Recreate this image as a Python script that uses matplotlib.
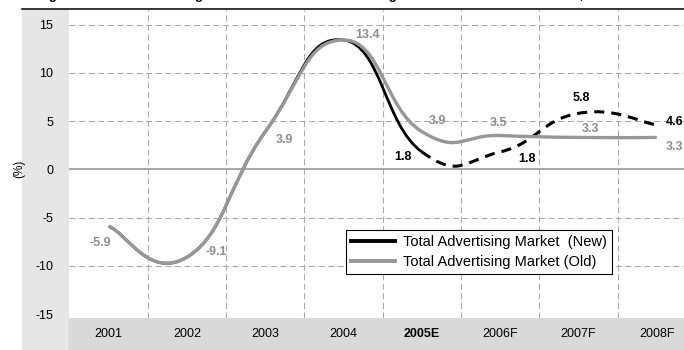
import numpy as np
import matplotlib
matplotlib.use('Agg')
import matplotlib.pyplot as plt
from matplotlib.path import Path
from matplotlib.patches import PathPatch, Rectangle
from matplotlib.lines import Line2D

plt.rcParams['font.family'] = ['Liberation Sans', 'DejaVu Sans']
plt.rcParams['axes.unicode_minus'] = False

# data
years = ['2001', '2002', '2003', '2004', '2005E', '2006F', '2007F', '2008F']
new_market = [-5.9, -9.1, 3.9, 13.4, 1.8, 1.8, 5.8, 4.6]
old_market = [-5.9, -9.1, 3.9, 13.4, 3.9, 3.5, 3.3, 3.3]
new_labels = {4: '1.8', 5: '1.8', 6: '5.8', 7: '4.6'}
old_labels = {0: '-5.9', 1: '-9.1', 2: '3.9', 3: '13.4', 4: '3.9', 5: '3.5', 6: '3.3', 7: '3.3'}
y_ticks = [-15, -10, -5, 0, 5, 10, 15]

# label offsets in pixels (dx right, dy down)
new_offsets = {4: (-19, 5), 5: (27, 7), 6: (3, -15), 7: (18, -3)}
old_offsets = {0: (-8, 17), 1: (29, -5), 2: (19, 8), 3: (24, -5),
               4: (16, -11), 5: (-2, -13), 6: (12, -8), 7: (18, 10)}

GREY = '#979797'
LABEL_GREY = '#8e8e8e'
GRID = '#a8a8a8'
DASH = (0, (5.8, 3.4))


def bezier_segments(ys, f=0.24):
    # excel-like smoothed line: one cubic bezier per pair of points
    pts = np.column_stack([np.arange(len(ys), dtype=float), np.asarray(ys, float)])
    n = len(pts)
    segs = []
    for k in range(n - 1):
        p0 = pts[max(k - 1, 0)]
        p1 = pts[k]
        p2 = pts[k + 1]
        p3 = pts[min(k + 2, n - 1)]
        c1 = p1 + f * (p2 - p0)
        c2 = p2 - f * (p3 - p1)
        segs.append((p1, c1, c2, p2))
    return segs


def seg_path(segs):
    verts = [segs[0][0]]
    codes = [Path.MOVETO]
    for p1, c1, c2, p2 in segs:
        verts += [c1, c2, p2]
        codes += [Path.CURVE4] * 3
    return Path(verts, codes)


fig = plt.figure(figsize=(6.84, 3.5), dpi=100)
W, H = 684.0, 350.0

# background panels
fig.add_artist(Rectangle((22 / W, 0), (69 - 22) / W, (350 - 10) / H,
                         transform=fig.transFigure, color='#e6e6e6', zorder=0))
fig.add_artist(Rectangle((69 / W, 0), (684 - 69) / W, (350 - 318) / H,
                         transform=fig.transFigure, color='#d9d9d9', zorder=0))
fig.add_artist(Line2D([22 / W, 1], [1 - 9 / H, 1 - 9 / H], transform=fig.transFigure,
                      color='black', lw=1.1))

# title: only its descenders show at the top edge
fig.text(37 / W, 1 + 0.8 / H,
         'Figure 4: Total Advertising Market Growth Rate Following Revision of 2005E Estimates, 2001-2008F',
         fontsize=9.5, fontweight='bold', va='baseline', ha='left')

ax = fig.add_axes([69 / W, (350 - 318) / H, (684 - 69) / W, (318 - 10) / H])
ax.set_facecolor('white')
ax.set_xlim((69 - 108.7) / 78.3, (684 - 108.7) / 78.3)
ax.set_ylim((169.3 - 318) / 9.65, (169.3 - 10) / 9.65)
for s in ax.spines.values():
    s.set_visible(False)

ax.set_yticks(y_ticks)
ax.set_xticks(np.arange(len(years)))
ax.set_xticks(np.arange(len(years) - 1) + 0.5, minor=True)
ax.set_xticklabels(years)
ax.tick_params(axis='both', which='both', length=0, labelsize=9)
ax.tick_params(axis='y', pad=11.5)
ax.tick_params(axis='x', pad=7)
ax.get_xticklabels()[4].set_fontweight('bold')

for v in y_ticks:
    if v in (0, -15):
        continue
    ax.axhline(v, color=GRID, lw=0.75, linestyle=DASH, zorder=1)
ax.grid(axis='x', which='minor', color=GRID, lw=0.75, linestyle=DASH)
ax.set_axisbelow(True)
ax.axhline(0, color='#a0a0a0', lw=1.3, zorder=1)

fig.text(19 / W, 1 - 169 / H, '(%)', rotation=90, fontsize=8.5, ha='center', va='center')

# new series: solid to 2005E, dashed after
new_segs = bezier_segments(new_market)
ax.add_patch(PathPatch(seg_path(new_segs[:4]), fill=False, edgecolor='black', lw=2.0,
                       capstyle='butt', joinstyle='round', zorder=3))
ax.add_patch(PathPatch(seg_path(new_segs[4:]), fill=False, edgecolor='black', lw=2.2,
                       linestyle=(0, (3.3, 2.3)), capstyle='butt', zorder=3))

old_segs = bezier_segments(old_market)
ax.add_patch(PathPatch(seg_path(old_segs), fill=False, edgecolor=GREY, lw=2.4,
                       capstyle='butt', joinstyle='round', zorder=4))

# data labels
for i, txt in old_labels.items():
    dx, dy = old_offsets[i]
    ax.annotate(txt, (i, old_market[i]), xytext=(dx * 0.72, -dy * 0.72),
                textcoords='offset points', ha='center', va='center',
                fontsize=9, fontweight='bold', color=LABEL_GREY, zorder=5)
for i, txt in new_labels.items():
    dx, dy = new_offsets[i]
    ax.annotate(txt, (i, new_market[i]), xytext=(dx * 0.72, -dy * 0.72),
                textcoords='offset points', ha='center', va='center',
                fontsize=9, fontweight='bold', color='black', zorder=5)

handles = [Line2D([], [], color='black', lw=2.8),
           Line2D([], [], color=GREY, lw=2.8)]
leg = ax.legend(handles, ['Total Advertising Market  (New)', 'Total Advertising Market (Old)'],
                loc='upper left', bbox_to_anchor=(346 / W, 1 - 230 / H),
                bbox_transform=fig.transFigure, borderaxespad=0, fontsize=10.5,
                frameon=True, fancybox=False, edgecolor='black', framealpha=1,
                handlelength=3.0, handletextpad=0.55, labelspacing=0.4,
                borderpad=0.35)
leg.get_frame().set_linewidth(0.8)
leg.set_zorder(10)

fig.savefig('out.png', dpi=100)
